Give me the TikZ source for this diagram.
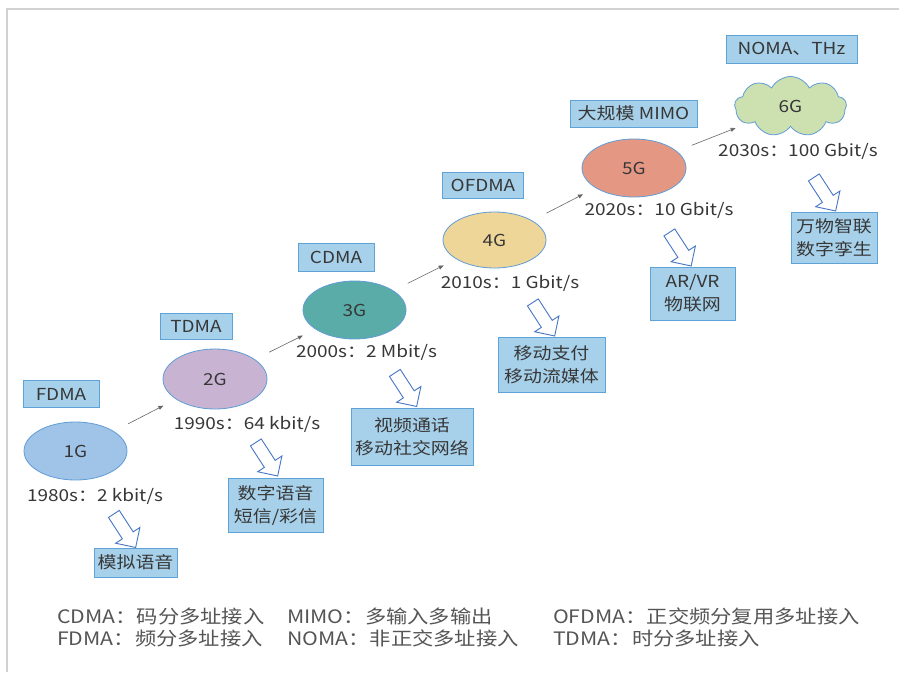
\documentclass[tikz,border=0pt]{standalone}
\usepackage{fontspec}
\setmainfont{Noto Sans CJK SC}[FakeStretch=1.15]
\usetikzlibrary{shapes.geometric,shapes.symbols,shapes.arrows,arrows.meta}
\definecolor{boxfill}{RGB}{167,209,234}
\definecolor{boxdraw}{RGB}{94,163,216}
\definecolor{elldraw}{RGB}{96,156,214}
\definecolor{c1}{RGB}{160,196,232}
\definecolor{c2}{RGB}{200,180,210}
\definecolor{c3}{RGB}{90,172,168}
\definecolor{c4}{RGB}{238,214,152}
\definecolor{c5}{RGB}{228,152,132}
\definecolor{c6}{RGB}{204,224,176}
\definecolor{txt}{RGB}{55,55,55}
\definecolor{framegray}{RGB}{210,210,210}
\definecolor{barrow}{RGB}{70,118,198}
\begin{document}
\begin{tikzpicture}[x=1pt,y=-1pt,
  every node/.style={text=txt},
  gen/.style={ellipse, draw=elldraw, line width=0.8pt, inner sep=0pt, font=\fontsize{16.5}{20}\selectfont},
  tagbox/.style={draw=boxdraw, fill=boxfill, line width=0.9pt, inner sep=0pt, font=\fontsize{16.5}{20}\selectfont},
  appbox/.style={draw=boxdraw, fill=boxfill, line width=0.9pt, inner sep=0pt, align=center, font=\fontsize{16.5}{23}\selectfont},
  speed/.style={inner sep=0pt, font=\fontsize{16.5}{20}\selectfont},
  legend/.style={inner sep=0pt, anchor=west, text=txt!85, font=\fontsize{18.5}{22}\selectfont},
  thinarrow/.style={draw=black!60, line width=0.6pt, -{Triangle[length=5pt,width=4pt]}},
  blockarrow/.style={single arrow, draw=barrow, fill=white, line width=0.9pt, inner xsep=0pt, inner ysep=6pt,
     minimum height=40pt, single arrow head extend=8pt, rotate=-57}
]
\useasboundingbox (0,0) rectangle (899,672);
\fill[white] (0,0) rectangle (899,672);
\draw[framegray, line width=2pt] (7,672) -- (7,8.5) -- (899,8.5);

% generations
\node[gen, fill=c1, minimum width=103, minimum height=58] (g1) at (75.5,451) {1G};
\node[gen, fill=c2, minimum width=104, minimum height=60] (g2) at (215,379) {2G};
\node[gen, fill=c3, minimum width=103, minimum height=58] (g3) at (354.5,310) {3G};
\node[gen, fill=c4, minimum width=103, minimum height=56] (g4) at (494.5,240) {4G};
\node[gen, fill=c5, minimum width=104, minimum height=58] (g5) at (634,168) {5G};
\node[cloud, cloud puffs=9, cloud puff arc=125, cloud ignores aspect, draw=elldraw, fill=c6, line width=0.8pt,
      minimum width=112, minimum height=60, inner sep=0pt, font=\fontsize{16.5}{20}\selectfont] (g6) at (790.5,106.5) {6G};

% thin arrows
\draw[thinarrow, shorten <=16pt, shorten >=14pt] (g1) -- (g2);
\draw[thinarrow, shorten <=16pt, shorten >=14pt] (g2) -- (g3);
\draw[thinarrow, shorten <=16pt, shorten >=14pt] (g3) -- (g4);
\draw[thinarrow, shorten <=16pt, shorten >=14pt] (g4) -- (g5);
\draw[thinarrow, shorten <=16pt, shorten >=12pt] (g5) -- (g6);

% technology tags
\node[tagbox, minimum width=76, minimum height=27] (t1) at (61,394) {FDMA};
\node[tagbox, minimum width=72, minimum height=26] (t2) at (196,326) {TDMA};
\node[tagbox, minimum width=76, minimum height=28] (t3) at (336,257) {CDMA};
\node[tagbox, minimum width=81, minimum height=26] (t4) at (483,185) {OFDMA};
\node[tagbox, minimum width=127, minimum height=27] (t5) at (633.5,113.5) {大规模 MIMO};
\node[tagbox, minimum width=131, minimum height=28] (t6) at (791.5,49) {NOMA、THz};

% speeds
\node[speed] (s1) at (95,496) {1980s：2 kbit/s};
\node[speed] (s2) at (247,424) {1990s：64 kbit/s};
\node[speed] (s3) at (366.5,352.5) {2000s：2 Mbit/s};
\node[speed] (s4) at (510,283) {2010s：1 Gbit/s};
\node[speed] (s5) at (659,210) {2020s：10 Gbit/s};
\node[speed] (s6) at (798,151) {2030s：100 Gbit/s};

% block arrows
\node[blockarrow] (b1) at (123,528) {};
\node[blockarrow] (b2) at (265,456.5) {};
\node[blockarrow] (b3) at (404,387) {};
\node[blockarrow] (b4) at (542,316.5) {};
\node[blockarrow] (b5) at (678.5,246.5) {};
\node[blockarrow] (b6) at (823,191.5) {};

% applications
\node[appbox, minimum width=83, minimum height=29] (a1) at (135.5,562.5) {模拟语音};
\node[appbox, minimum width=95, minimum height=54] (a2) at (275.5,505) {数字语音\\短信/彩信};
\node[appbox, minimum width=122, minimum height=57] (a3) at (412,436.5) {视频通话\\移动社交网络};
\node[appbox, minimum width=107, minimum height=55] (a4) at (551.5,364.5) {移动支付\\移动流媒体};
\node[appbox, minimum width=85, minimum height=53] (a5) at (692.5,293.5) {AR/VR\\物联网};
\node[appbox, minimum width=86, minimum height=51] (a6) at (834,237.5) {万物智联\\数字孪生};

% legend
\node[legend] (l1) at (57,616) {CDMA：码分多址接入};
\node[legend] (l2) at (287,616) {MIMO：多输入多输出};
\node[legend] (l3) at (553,616) {OFDMA：正交频分复用多址接入};
\node[legend] (l4) at (57,638) {FDMA：频分多址接入};
\node[legend] (l5) at (287,638) {NOMA：非正交多址接入};
\node[legend] (l6) at (553,638) {TDMA：时分多址接入};
\end{tikzpicture}
\end{document}
